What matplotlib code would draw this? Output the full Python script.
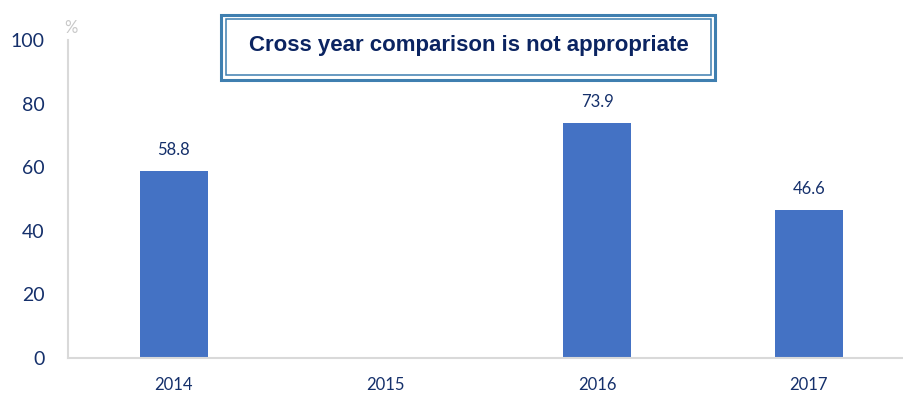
import numpy as np
import matplotlib.pyplot as plt
from matplotlib.patches import Rectangle

years = ["2014", "2015", "2016", "2017"]
values = [58.8, np.nan, 73.9, 46.6]
value_labels = ["58.8", "", "73.9", "46.6"]
y_ticks = [0, 20, 40, 60, 80, 100]
note = "Cross year comparison is not appropriate"

navy = "#15306B"
bar_color = "#4472C4"
grid_grey = "#D9D9D9"

W, H = 904, 394
fig = plt.figure(figsize=(W / 100, H / 100), dpi=100)
ax = fig.add_axes([68 / W, 1 - 358 / H, (W - 68) / W, (358 - 40) / H])

x = np.arange(len(years))
ax.bar(x, values, width=0.32, color=bar_color, zorder=2)
for xi, v, lab in zip(x, values, value_labels):
    if lab:
        ax.text(xi, v + 4, lab, ha="center", va="bottom", fontsize=12,
                color=navy, family="Lato")

ax.set_xlim(-0.5, 3.45)
ax.set_ylim(0, 100)
ax.set_yticks(y_ticks)
ax.set_xticks(x)
ax.set_xticklabels(years)
ax.tick_params(axis="y", length=0, pad=17, labelsize=14, labelcolor=navy)
ax.tick_params(axis="x", length=0, pad=14, labelsize=12, labelcolor=navy)
for lab in ax.get_xticklabels() + ax.get_yticklabels():
    lab.set_family("Lato")

for side in ["top", "right"]:
    ax.spines[side].set_visible(False)
for side in ["left", "bottom"]:
    ax.spines[side].set_color(grid_grey)
    ax.spines[side].set_linewidth(1.5)

fig.text(64 / W, 1 - 28 / H, "%", fontsize=12, color="#C8C8C8",
         family="Lato", va="center")

# double-lined note box
box_blue = "#3F7FB0"
x0, y0, x1, y1 = 221.5, 14.5, 715.5, 79.5
fig.patches.append(Rectangle((x0 / W, 1 - y1 / H), (x1 - x0) / W, (y1 - y0) / H,
                             transform=fig.transFigure, fill=False,
                             edgecolor=box_blue, linewidth=2.2))
ins = 5
fig.patches.append(Rectangle(((x0 + ins) / W, 1 - (y1 - ins) / H),
                             (x1 - x0 - 2 * ins) / W, (y1 - y0 - 2 * ins) / H,
                             transform=fig.transFigure, fill=False,
                             edgecolor=box_blue, linewidth=1.1))
fig.text((x0 + x1) / 2 / W, 1 - 46 / H, note, ha="center", va="center",
         fontsize=16, fontweight="bold", color="#0B2461",
         family="Liberation Sans")

fig.savefig("out.png", dpi=100)
